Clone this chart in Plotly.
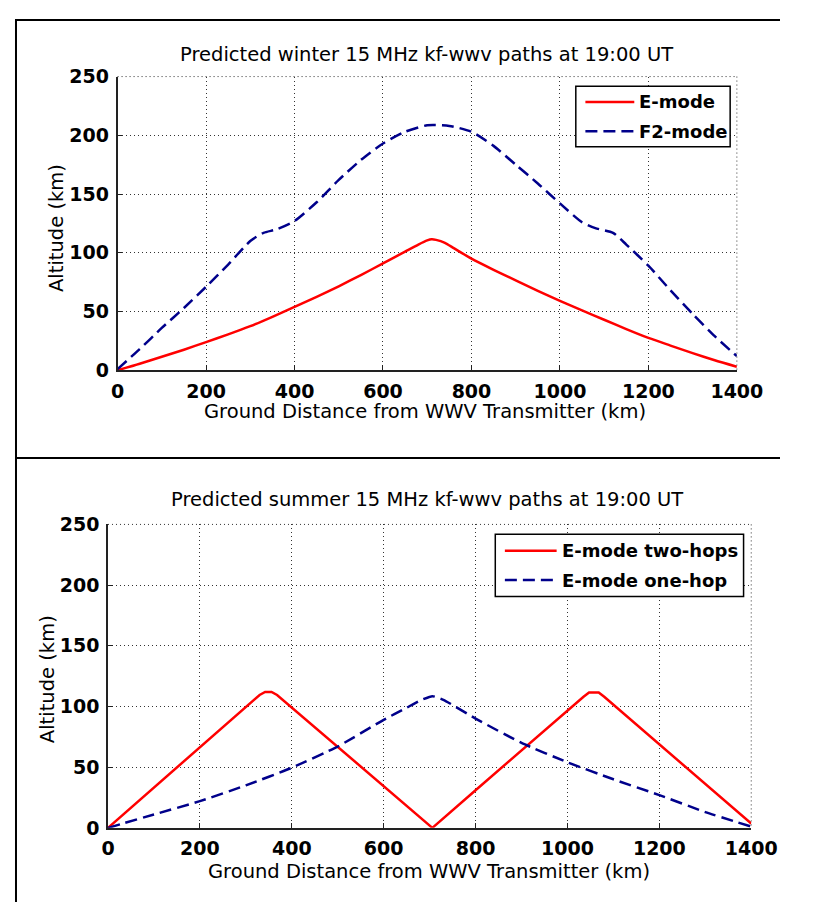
import plotly.graph_objects as go

# reference is 814x923; the page body has an 8px margin, so the figure is drawn
# 16px smaller and every reference pixel position is shifted by OFF
REF_W, REF_H = 814, 923
OFF = 8
W, H = REF_W - 2 * OFF, REF_H - 2 * OFF - 2

# winter panel (km, km)
winter_dist_e = [0, 50, 100, 150, 200, 250, 300, 350, 400, 450, 500, 550, 600, 650, 680, 700, 710,
                 720, 740, 760, 800, 850, 900, 950, 1000, 1050, 1100, 1150, 1200, 1250, 1300, 1350, 1400]
winter_alt_e = [0, 5.5, 11.5, 17.5, 24, 30.5, 37.5, 45.5, 54, 62.5, 71.5, 81, 91, 101, 107, 110.5, 111.5,
                111, 108.5, 104, 95, 85.5, 76.5, 67.5, 59, 51, 43, 35, 27.5, 21, 14.6, 8.5, 3]

winter_dist_f2 = [0, 50, 100, 150, 200, 250, 300, 330, 360, 400, 450, 500, 550, 600, 650, 700,
                  750, 800, 850, 900, 950, 1000, 1050, 1080, 1120, 1150, 1200, 1250, 1300, 1350, 1400]
winter_alt_f2 = [1, 18, 36, 53, 71, 90, 110, 117, 120, 127, 143, 162, 179, 193, 203, 208.5,
                 208, 203, 191, 175, 159, 142, 126, 121, 117, 107, 89, 68, 48, 29, 12]

# summer panel
summer_dist_two = [0, 100, 200, 300, 330, 342, 356, 368, 450, 550, 650, 706,
                   800, 900, 1000, 1035, 1047, 1068, 1080, 1150, 1250, 1350, 1400]
summer_alt_two = [0, 33, 66, 99.5, 109.5, 112, 112, 109.5, 83, 50.5, 18, 0,
                  31, 64, 96.5, 108, 111.5, 111.5, 108, 85, 52.5, 20, 3.5]

summer_dist_one = [0, 100, 200, 300, 400, 500, 600, 650, 680, 706, 730, 800, 900, 1000, 1100, 1200, 1300, 1400]
summer_alt_one = [0, 11, 22, 35, 49.5, 67, 89, 99, 105, 108.5, 105.5, 90, 70, 54, 40, 27, 13, 1]

x_ticks = [0, 200, 400, 600, 800, 1000, 1200, 1400]
y_ticks = [0, 50, 100, 150, 200, 250]

titles = ["Predicted winter 15 MHz kf-wwv paths at 19:00 UT",
          "Predicted summer 15 MHz kf-wwv paths at 19:00 UT"]
xlabel = "Ground Distance from WWV Transmitter (km)"
ylabel = "Altitude (km)"
legend_top = ["E-mode", "F2-mode"]
legend_bottom = ["E-mode two-hops", "E-mode one-hop"]

RED = "#ff0000"
BLUE = "#00008b"
DASH = "12px,6px"
FONT = "DejaVu Sans"


def px(x):
    return min(max((x - OFF) / W, 0), 1)


def py(y):
    return min(max(1 - (y - OFF) / H, 0), 1)


fig = go.Figure()
fig.add_trace(go.Scatter(x=winter_dist_e, y=winter_alt_e, mode="lines", xaxis="x", yaxis="y",
                         line=dict(color=RED, width=2.5, shape="spline", smoothing=0.6), showlegend=False))
fig.add_trace(go.Scatter(x=winter_dist_f2, y=winter_alt_f2, mode="lines", xaxis="x", yaxis="y",
                         line=dict(color=BLUE, width=2.5, dash=DASH, shape="spline", smoothing=0.6),
                         showlegend=False))
fig.add_trace(go.Scatter(x=summer_dist_two, y=summer_alt_two, mode="lines", xaxis="x2", yaxis="y2",
                         line=dict(color=RED, width=2.5), showlegend=False))
fig.add_trace(go.Scatter(x=summer_dist_one, y=summer_alt_one, mode="lines", xaxis="x2", yaxis="y2",
                         line=dict(color=BLUE, width=2.5, dash=DASH, shape="spline", smoothing=0.5),
                         showlegend=False))

axis_common = dict(showline=True, linecolor="#222", linewidth=1.5, ticks="inside", ticklen=5,
                   tickcolor="#222", showgrid=True, gridcolor="#333", griddash="1px,3px",
                   gridwidth=1, zeroline=False, ticklabelstandoff=3,
                   tickfont=dict(family=FONT, size=19, color="black", weight="bold"))

top_x, top_y = (115, 761), (67, 368)
bot_x, bot_y = (105, 776), (526, 837)

fig.update_layout(
    width=W, height=H, margin=dict(l=0, r=0, t=0, b=0),
    paper_bgcolor="white", plot_bgcolor="white",
    xaxis=dict(domain=[px(top_x[0]), px(top_x[1])], range=[0, 1400], tickvals=x_ticks, anchor="y", **axis_common),
    yaxis=dict(domain=[py(top_y[1]), py(top_y[0])], range=[0, 250], tickvals=y_ticks, anchor="x", **axis_common),
    xaxis2=dict(domain=[px(bot_x[0]), px(bot_x[1])], range=[0, 1400], tickvals=x_ticks, anchor="y2", **axis_common),
    yaxis2=dict(domain=[py(bot_y[1]), py(bot_y[0])], range=[0, 250], tickvals=y_ticks, anchor="x2", **axis_common),
)

ann = []
tfont = dict(family=FONT, size=19.5, color="black")
ann.append(dict(x=px(437), y=py(44), text=titles[0], font=tfont))
ann.append(dict(x=px(438), y=py(500), text=titles[1], font=tfont))
ann.append(dict(x=px(436), y=py(410), text=xlabel, font=tfont))
ann.append(dict(x=px(440), y=py(882), text=xlabel, font=tfont))
ann.append(dict(x=px(52), y=py(222), text=ylabel, textangle=-90, font=tfont))
ann.append(dict(x=px(42), y=py(685), text=ylabel, textangle=-90, font=tfont))

shapes = []
# page frame
shapes.append(dict(type="line", x0=px(7) + 0.0013, x1=px(7) + 0.0013, y0=0, y1=1, line=dict(color="black", width=2)))
shapes.append(dict(type="line", x0=px(7), x1=1, y0=py(3) - 0.0012, y1=py(3) - 0.0012, line=dict(color="black", width=2)))
shapes.append(dict(type="line", x0=px(7), x1=1, y0=py(458), y1=py(458), line=dict(color="black", width=2)))

# dotted top/right edges of each axes box (grid at 250 and 1400)
for (xa, xb), (ya, yb) in [(top_x, top_y), (bot_x, bot_y)]:
    dot = dict(color="#333", width=1, dash="1px,3px")
    shapes.append(dict(type="line", x0=px(xa), x1=px(xb), y0=py(ya), y1=py(ya), line=dot))
    shapes.append(dict(type="line", x0=px(xb), x1=px(xb), y0=py(ya), y1=py(yb), line=dot))


def add_legend(box, rows, labels, styles):
    x0, y0, x1, y1 = box
    shapes.append(dict(type="rect", x0=px(x0), x1=px(x1), y0=py(y1), y1=py(y0),
                       line=dict(color="black", width=1.5), fillcolor="white"))
    for (lx0, lx1, ty), lab, (col, dash) in zip(rows, labels, styles):
        shapes.append(dict(type="line", x0=px(lx0), x1=px(lx1), y0=py(ty), y1=py(ty),
                           line=dict(color=col, width=2.5, dash=dash)))
        ann.append(dict(x=px(lx1 + 3), y=py(ty), text=lab, xanchor="left",
                        font=dict(family=FONT, size=18, color="black", weight="bold")))


add_legend((593, 77, 754, 139), [(603, 654, 93), (603, 654, 123)], legend_top,
           [(RED, "solid"), (BLUE, DASH)])
add_legend((509, 536, 768, 600), [(519, 573, 553), (519, 573, 583)], legend_bottom,
           [(RED, "solid"), (BLUE, DASH)])

for s in shapes:
    s.update(xref="paper", yref="paper")
for a in ann:
    a.update(xref="paper", yref="paper", showarrow=False)
    a.setdefault("xanchor", "center")
    a.setdefault("yanchor", "middle")

fig.update_layout(annotations=ann, shapes=shapes)
fig.write_html("out.html")
